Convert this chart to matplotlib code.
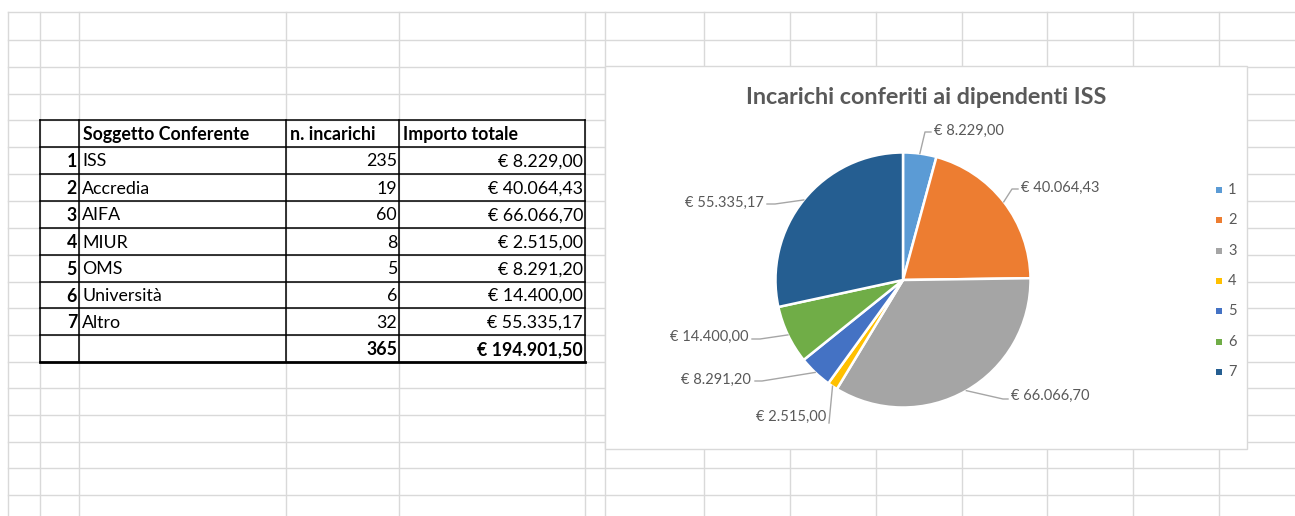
import matplotlib
matplotlib.use('Agg')
import matplotlib.pyplot as plt
from matplotlib.patches import Rectangle
import numpy as np

plt.rcParams['font.family'] = ['Lato', 'DejaVu Sans']

W, H = 1295, 516

# data
soggetti = ['ISS', 'Accredia', 'AIFA', 'MIUR', 'OMS', 'Università', 'Altro']
incarichi = [235, 19, 60, 8, 5, 6, 32]
importi = [8229.00, 40064.43, 66066.70, 2515.00, 8291.20, 14400.00, 55335.17]
legend_labels = ['1', '2', '3', '4', '5', '6', '7']
colori = ['#5B9BD5', '#ED7D31', '#A5A5A5', '#FFC000', '#4472C4', '#70AD47', '#255E91']
intestazioni = ['Soggetto Conferente', 'n. incarichi', 'Importo totale']
titolo = 'Incarichi conferiti ai dipendenti ISS'


def euro(v):
    s = f'{v:,.2f}'.replace(',', 'X').replace('.', ',').replace('X', '.')
    return '€ ' + s


def py(y):
    # screen pixel y -> axes y
    return H - y


fig = plt.figure(figsize=(W / 100, H / 100), dpi=100)
ax = fig.add_axes([0, 0, 1, 1])

# worksheet grid
col_x = [8, 40, 79, 286, 399, 585, 605, 704, 790, 876, 962, 1047, 1133, 1219]
row_y = [12, 40, 67, 94, 120, 147, 174, 201, 228, 255, 282, 308, 335, 362,
         388, 415, 442, 468, 495]
grid_c = '#d9d9d9'
for x in col_x:
    ax.plot([x, x], [py(12), py(H)], color=grid_c, lw=1, zorder=1)
for y in row_y:
    ax.plot([8, W], [py(y), py(y)], color=grid_c, lw=1, zorder=1)

# table
tab_x = [40, 79, 286, 399, 585]
tab_y = row_y[4:14]
for x in tab_x:
    ax.plot([x, x], [py(tab_y[0]), py(tab_y[-1])], color='black', lw=1.1, zorder=2)
for i, y in enumerate(tab_y):
    ax.plot([tab_x[0], tab_x[-1]], [py(y), py(y)], color='black',
            lw=2.0 if i == len(tab_y) - 1 else 1.1, zorder=2)

fs_tab = 12.8


def cell_y(r):
    return py((tab_y[r] + tab_y[r + 1]) / 2 + 1)


for j, h in enumerate(intestazioni):
    ax.text(tab_x[j + 1] + 4, cell_y(0), h, ha='left', va='center',
            fontsize=fs_tab, fontweight='bold')
for i, (s, n, v) in enumerate(zip(soggetti, incarichi, importi)):
    r = i + 1
    ax.text(tab_x[1] - 2, cell_y(r), str(i + 1), ha='right', va='center',
            fontsize=fs_tab, fontweight='bold')
    ax.text(tab_x[1] + 3, cell_y(r), s, ha='left', va='center', fontsize=fs_tab)
    ax.text(tab_x[3] - 2, cell_y(r), str(n), ha='right', va='center', fontsize=fs_tab)
    ax.text(tab_x[4] - 2, cell_y(r), euro(v), ha='right', va='center', fontsize=fs_tab)
ax.text(tab_x[3] - 2, cell_y(8), str(sum(incarichi)), ha='right', va='center',
        fontsize=fs_tab, fontweight='bold')
ax.text(tab_x[4] - 2, cell_y(8), euro(sum(importi)), ha='right', va='center',
        fontsize=fs_tab, fontweight='bold')

# chart area
ax.add_patch(Rectangle((605, py(449)), 642, 383, facecolor='white',
                       edgecolor='#d9d9d9', lw=1, zorder=3))
ax.text(926, py(97), titolo, ha='center', va='center', fontsize=16.8,
        color='#595959', fontweight='bold', zorder=5)

cx, cy, rad = 903, py(280), 127.5
wedges, _ = ax.pie(importi, colors=colori, startangle=90, counterclock=False,
                   center=(cx, cy), radius=rad,
                   wedgeprops=dict(edgecolor='white', linewidth=1.8, zorder=4))

# data labels with leader lines (layout positions in screen pixels)
label_xy = [(934, 131, 'left'), (1021, 188, 'left'), (1011, 396, 'left'),
            (826, 417, 'right'), (751, 380, 'right'), (749, 337, 'right'),
            (764, 203, 'right')]
leader_pts = [[(925, 132), (931, 132)], [(1012, 189), (1018, 189)],
              [(1003, 399), (1008, 399)], [(829, 423)],
              [(762, 381), (755, 381)], [(760, 339), (752, 339)],
              [(775, 204), (767, 204)]]
for w, v, (tx, ty, ha), pts in zip(wedges, importi, label_xy, leader_pts):
    th = np.deg2rad((w.theta1 + w.theta2) / 2)
    ex, ey = cx + rad * np.cos(th), cy + rad * np.sin(th)
    xs = [ex] + [p[0] for p in pts]
    ys = [ey] + [py(p[1]) for p in pts]
    ax.plot(xs, ys, color='#a6a6a6', lw=1, zorder=5)
    ax.text(tx, py(ty), euro(v), ha=ha, va='center', fontsize=10.5,
            color='#595959', zorder=5)

# legend
for i, (lab, c) in enumerate(zip(legend_labels, colori)):
    yy = py(190 + 30.3 * i)
    ax.scatter([1219], [yy], marker='s', s=22, color=c, zorder=5, linewidths=0)
    ax.text(1228, yy, lab, ha='left', va='center', fontsize=10.5,
            color='#595959', zorder=5)

ax.set_xlim(0, W)
ax.set_ylim(0, H)
ax.axis('off')
fig.savefig('out.png', dpi=100, facecolor='white')
